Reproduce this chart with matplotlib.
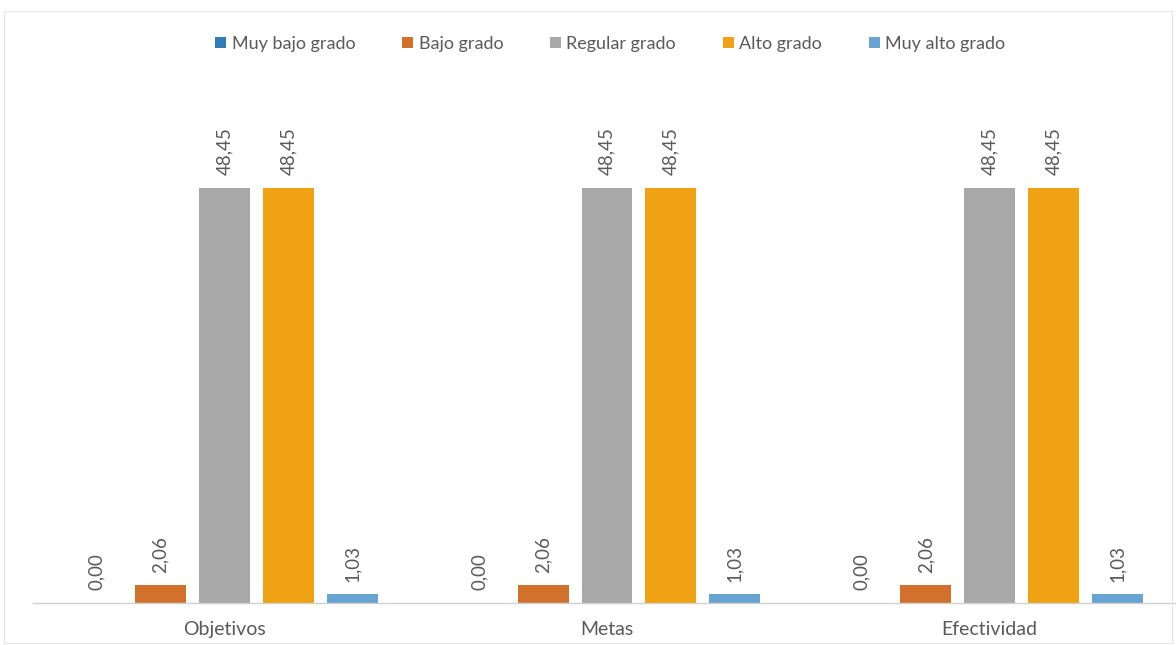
import numpy as np
import matplotlib.pyplot as plt

categorias = ['Objetivos', 'Metas', 'Efectividad']
series = ['Muy bajo grado', 'Bajo grado', 'Regular grado', 'Alto grado', 'Muy alto grado']
valores = [
    [0.00, 0.00, 0.00],
    [2.06, 2.06, 2.06],
    [48.45, 48.45, 48.45],
    [48.45, 48.45, 48.45],
    [1.03, 1.03, 1.03],
]
colores = ['#2E7DB5', '#D2712B', '#A8A8A8', '#F0A214', '#68A4D2']

plt.rcParams['font.family'] = ['Lato', 'DejaVu Sans']

fig = plt.figure(figsize=(11.76, 6.45), dpi=100)
ax = fig.add_axes([33 / 1176, 42 / 645, 1148 / 1176, 514 / 645])

x = np.arange(len(categorias))
paso = 0.167
ancho = 0.133
for i, (nombre, vals, col) in enumerate(zip(series, valores, colores)):
    pos = x + (i - 2) * paso
    barras = ax.bar(pos, vals, width=ancho, color=col, label=nombre)
    for b, v in zip(barras, vals):
        ax.annotate(f'{v:.2f}'.replace('.', ','),
                    (b.get_x() + b.get_width() / 2, v),
                    xytext=(0, 9), textcoords='offset points',
                    rotation=90, ha='center', va='bottom',
                    fontsize=13.5, color='#5A5A5A')

ax.set_xlim(-0.5, 2.5)
ax.set_ylim(0, 60)
ax.set_xticks(x)
ax.set_xticklabels(categorias, fontsize=14, color='#5A5A5A')
ax.tick_params(axis='x', length=0, pad=13)
ax.set_yticks([])
for lado in ['top', 'right', 'left']:
    ax.spines[lado].set_visible(False)
ax.spines['bottom'].set_color('#D0D0D0')
ax.spines['bottom'].set_linewidth(1)

fig.legend(loc='upper center', bbox_to_anchor=(0.519, 0.97), ncol=5,
           frameon=False, fontsize=13, handlelength=0.6, handleheight=0.6,
           handletextpad=0.3, columnspacing=2.6, labelcolor='#5A5A5A')

# marco tenue del grafico
fig.patches.append(plt.Rectangle((0.003, 0.003), 0.994, 0.98, transform=fig.transFigure,
                                 fill=False, edgecolor='#E6E6E6', linewidth=0.8))

fig.savefig('out.png', dpi=100)
